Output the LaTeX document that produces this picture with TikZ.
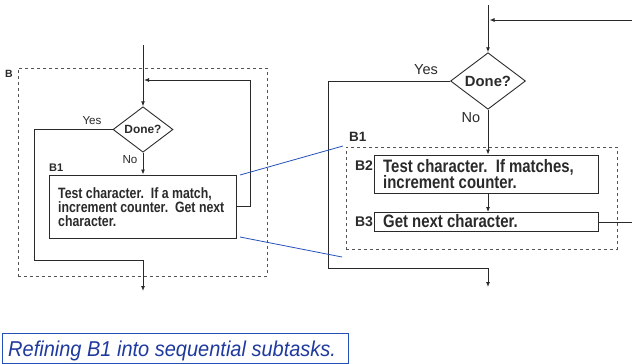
\documentclass[tikz,border=0pt]{standalone}
\usepackage{fontspec}
\setmainfont{Liberation Sans}
% tall, narrow bold face used for the task texts
\newfontfamily\tasknarrow[FakeStretch=0.82]{Liberation Sans}
\newfontfamily\tasknarrowR[FakeStretch=0.83]{Liberation Sans}
\newfontfamily\captionface[FakeStretch=0.93]{Liberation Sans}
\usetikzlibrary{shapes.geometric,arrows.meta}
\definecolor{ink}{HTML}{2A2A2A}
\definecolor{linkblue}{HTML}{2451B8}
\definecolor{capblue}{HTML}{1F3A9E}
\tikzset{
  flow/.style={draw=ink,line width=0.9pt},
  arr/.style={flow,-{Latex[length=5pt,width=4pt]}},
  decision/.style={diamond,draw=ink,line width=0.9pt,inner sep=0pt,font=\bfseries,text=ink},
  taskbox/.style={rectangle,draw=ink,line width=0.9pt,inner sep=0pt,font=\bfseries,text=ink},
  groupbox/.style={rectangle,draw=ink!80,dashed,line width=0.7pt,inner sep=0pt},
  lbl/.style={inner sep=0pt,text=ink},
  link/.style={draw=linkblue,line width=0.8pt},
}
\begin{document}
\begin{tikzpicture}[x=1pt,y=-1pt]
\useasboundingbox (0,0) rectangle (632,364);

% ---------- left: loop with block B1 ----------
\node[groupbox,minimum width=249,minimum height=208] (LB) at (142.5,172) {};
\node[lbl,font=\fontsize{10.5}{12}\selectfont\bfseries] (LBlab) at (9,74) {B};
\node[decision,minimum width=60,minimum height=45,font=\fontsize{11.9}{14}\selectfont\bfseries] (Ld) at (143,129.5) {Done?};
\node[taskbox,minimum width=187,minimum height=63] (Lb1) at (143,206.5) {};
\node[lbl,font=\tasknarrow\fontsize{15}{14.3}\selectfont\bfseries,align=left,anchor=north west] (Ltxt) at (58,187)
  {Test character.\ \ If a match,\\increment counter.\ \ Get next\\character.};
\node[lbl,font=\fontsize{11}{13}\selectfont\bfseries,anchor=west] (Lb1lab) at (49,168) {B1};
\node[lbl,font=\fontsize{11.6}{14}\selectfont] (LYes) at (92,121) {Yes};
\node[lbl,font=\fontsize{11.6}{14}\selectfont] (LNo) at (130,160) {No};

\coordinate (Ltop) at (143,45);
\coordinate (Ljoin) at (144,80);
\coordinate (Lloop) at (250,80);
\coordinate (Lyc) at (34,260);
\coordinate (Lexit) at (143,291);

\draw[arr] (Ltop) -- (Ld.north);
\draw[arr] (Ld.south) -- (Lb1.north);
\draw[arr] (Lb1.east) -| (Lloop) -- (Ljoin);
\draw[arr] (Ld.west) -| (Lyc) -| (Lexit);

% ---------- right: B1 split into B2 and B3 ----------
\node[groupbox,minimum width=271,minimum height=102] (RB1) at (481.5,198) {};
\node[lbl,font=\fontsize{13.5}{16}\selectfont\bfseries,anchor=west] (RB1lab) at (349,137) {B1};
\node[decision,minimum width=75,minimum height=55,font=\fontsize{14.8}{17}\selectfont\bfseries] (Rd) at (488,81) {Done?};
\node[taskbox,minimum width=224,minimum height=38] (B2) at (486,174) {};
\node[lbl,font=\tasknarrowR\fontsize{18}{16.5}\selectfont\bfseries,align=left,anchor=north west] (B2txt) at (383,159)
  {Test character.\ \ If matches,\\increment counter.};
\node[taskbox,minimum width=224,minimum height=19] (B3) at (486,222) {};
\node[lbl,font=\tasknarrowR\fontsize{18}{17}\selectfont\bfseries,anchor=base west] (B3txt) at (383,227.5) {Get next character.};
\node[lbl,font=\fontsize{14}{16}\selectfont\bfseries] (B2lab) at (364,166) {B2};
\node[lbl,font=\fontsize{14}{16}\selectfont\bfseries] (B3lab) at (364,222) {B3};
\node[lbl,font=\fontsize{14.5}{17}\selectfont] (RYes) at (426,70) {Yes};
\node[lbl,font=\fontsize{14.5}{17}\selectfont] (RNo) at (471,118) {No};

\coordinate (Rtop) at (488,5);
\coordinate (Rret) at (632,20);
\coordinate (Rjoin) at (489.5,20);
\coordinate (Ryc) at (328,268);
\coordinate (Rexit) at (488,287);
\coordinate (Rout) at (632,222);

\draw[arr] (Rtop) -- (Rd.north);
\draw[arr] (Rret) -- (Rjoin);
\draw[arr] (Rd.south) -- (Rd.south |- B2.north);
\draw[arr] (Rd.south |- B2.south) -- (Rd.south |- B3.north);
\draw[flow] (B3.east) -- (Rout);
\draw[arr] (Rd.west) -| (Ryc) -| (Rexit);

% ---------- zoom lines ----------
\coordinate (Za) at (240,175);
\coordinate (Zb) at (343,146);
\coordinate (Zc) at (240,237);
\coordinate (Zd) at (342,257);
\draw[link] (Za) -- (Zb);
\draw[link] (Zc) -- (Zd);

% ---------- caption ----------
\node[draw=linkblue,line width=0.7pt,minimum width=346,minimum height=30,inner sep=0pt] (cap) at (175,348) {};
\node[lbl,text=capblue,font=\captionface\fontsize{21.5}{24}\selectfont\itshape,anchor=base west] (captxt) at (8,356) {Refining B1 into sequential subtasks.};
\end{tikzpicture}
\end{document}
